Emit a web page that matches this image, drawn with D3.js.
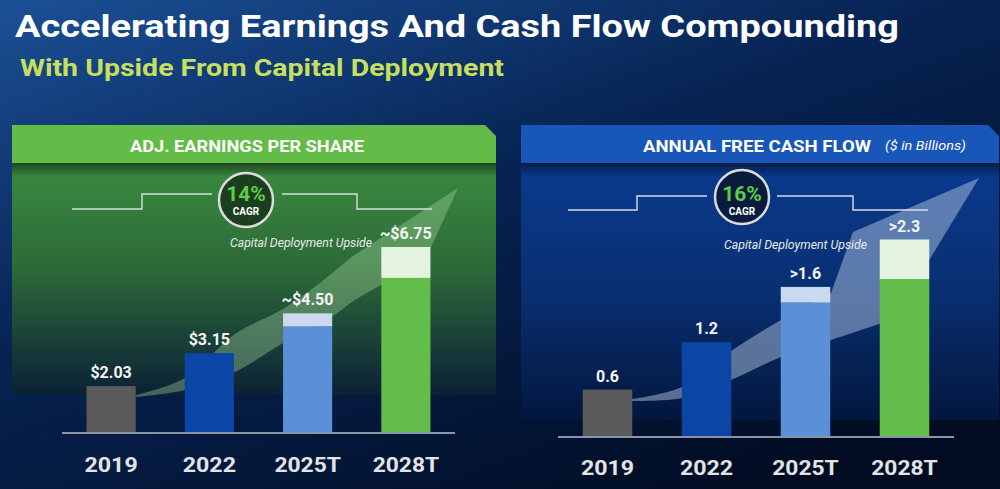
<html>
<head>
  <meta charset="UTF-8">
  <title>Earnings and Cash Flow Compounding</title>
  <script src="https://d3js.org/d3.v7.min.js"></script>
  <style>
    body { margin: 0; background: #03122e; }
    text { font-family: Roboto, "Open Sans", sans-serif; }
  </style>
</head>
<body>
<svg></svg>
<script>

    // Data

    const years = ["2019", "2022", "2025T", "2028T"];

    const epsValues = [2.03, 3.15, 4.50, 6.75];   // full bar height incl. upside
    const epsBase = [2.03, 3.15, 4.05, 5.70];     // bar height without upside
    const epsLabels = ["$2.03", "$3.15", "~$4.50", "~$6.75"];

    const fcfValues = [0.6, 1.2, 1.9, 2.5];
    const fcfBase = [0.6, 1.2, 1.7, 2.0];
    const fcfLabels = ["0.6", "1.2", ">1.6", ">2.3"];

    const barColors = ["#5b5b5b", "#0b46a6", "#5a90d8", "#63bd4a"];
    const upsideColors = ["#5b5b5b", "#0b46a6", "#c9d9f0", "#e4f2e0"];

    // Setup

    const width = 1000;
    const height = 489;

    let svg = d3.select("svg")
                .attr("width", width)
                .attr("height", height);

    let defs = svg.append("defs");

    let bg = defs.append("linearGradient").attr("id", "bg")
                 .attr("x1", 0).attr("y1", 0).attr("x2", 0.75).attr("y2", 1);
    bg.append("stop").attr("offset", 0).attr("stop-color", "#1b5096");
    bg.append("stop").attr("offset", 0.45).attr("stop-color", "#072454");
    bg.append("stop").attr("offset", 1).attr("stop-color", "#010c22");

    let greenBody = defs.append("linearGradient").attr("id", "greenBody")
                        .attr("x1", 0).attr("y1", 0).attr("x2", 0).attr("y2", 1);
    greenBody.append("stop").attr("offset", 0).attr("stop-color", "#3a8b3e");
    greenBody.append("stop").attr("offset", 0.45).attr("stop-color", "#2d6a39");
    greenBody.append("stop").attr("offset", 1).attr("stop-color", "#0b2136");

    let blueBody = defs.append("linearGradient").attr("id", "blueBody")
                       .attr("x1", 0).attr("y1", 0).attr("x2", 0).attr("y2", 1);
    blueBody.append("stop").attr("offset", 0).attr("stop-color", "#0a3a8e");
    blueBody.append("stop").attr("offset", 0.5).attr("stop-color", "#092f72");
    blueBody.append("stop").attr("offset", 1).attr("stop-color", "#03173d");

    let shadow = defs.append("linearGradient").attr("id", "shadow")
                     .attr("x1", 0).attr("y1", 0).attr("x2", 0).attr("y2", 1);
    shadow.append("stop").attr("offset", 0).attr("stop-color", "#000").attr("stop-opacity", 0.5);
    shadow.append("stop").attr("offset", 1).attr("stop-color", "#000").attr("stop-opacity", 0);

    svg.append("rect").attr("width", width).attr("height", height).attr("fill", "url(#bg)");

    // Titles

    svg.append("text")
        .attr("x", 15).attr("y", 37)
        .attr("textLength", 884).attr("lengthAdjust", "spacingAndGlyphs")
        .style("font-size", "31px").style("font-weight", 700)
        .attr("fill", "white")
        .text("Accelerating Earnings And Cash Flow Compounding");

    svg.append("text")
        .attr("x", 20).attr("y", 76)
        .attr("textLength", 484).attr("lengthAdjust", "spacingAndGlyphs")
        .style("font-size", "23px").style("font-weight", 700)
        .attr("fill", "#c6df5f")
        .text("With Upside From Capital Deployment");

    // Panels

    const panels = [
        {
            left: 12, right: 496, bodyBottom: 395, headColor: "#62bc47", body: "url(#greenBody)",
            title: "ADJ. EARNINGS PER SHARE", titleX: 130, titleW: 234, note: null,
            base: 433, axisRange: [62, 455], domain: [0.44, 6.75], top: 247,
            values: epsValues, baseValues: epsBase, labels: epsLabels,
            cagr: "14%", circle: [246, 200], circleFill: "#1b3f1e",
            steps: [[72, 209], [142, 194], [212, 194], [282, 194], [357, 209], [432, 209]],
            upside: [230, 247, 142],
            arrowFill: "#a8dca0", arrowOpacity: 0.36, yearY: 472,
            arrowUpper: [[136, 395], [185, 378], [235, 334], [283, 309], [320, 283]],
            arrowHead: [[353, 256], [458, 188], [407, 300], [383, 284]],
            arrowLower: [[383, 284], [355, 300], [333, 316], [283, 343], [235, 372], [185, 390], [136, 397]]
        },
        {
            left: 521, right: 999, bodyBottom: 420, headColor: "#1856b9", body: "url(#blueBody)",
            title: "ANNUAL FREE CASH FLOW", titleX: 643, titleW: 228, note: "($ in Billions)",
            base: 437, axisRange: [558, 954], domain: [0, 2.5], top: 239.5,
            values: fcfValues, baseValues: fcfBase, labels: fcfLabels,
            cagr: "16%", circle: [742, 197], circleFill: "#0a1c3e",
            steps: [[568, 210], [637, 196], [707, 196], [777, 196], [853, 210], [928, 210]],
            upside: [724, 249, 143],
            arrowFill: "#c4d4ee", arrowOpacity: 0.45, yearY: 475,
            arrowUpper: [[632, 399], [682, 387], [731, 351], [781, 320], [831, 293]],
            arrowHead: [[853, 232], [979, 178], [905, 300], [885, 322]],
            arrowLower: [[885, 322], [831, 340], [781, 357], [731, 380], [682, 398], [632, 401]]
        }
    ];

    function arrowPath(p) {
        const ln = d3.line().curve(d3.curveCatmullRom.alpha(0.5));
        let d = ln(p.arrowUpper);
        p.arrowHead.forEach(pt => d += `L${pt[0]},${pt[1]}`);
        d += ln(p.arrowLower).replace(/^M/, "L");
        return d + "Z";
    }

    panels.forEach( (p) => {

        let g = svg.append("g");

        // body + header
        g.append("rect")
            .attr("x", p.left).attr("y", 163)
            .attr("width", p.right - p.left).attr("height", p.bodyBottom - 163)
            .attr("fill", p.body);

        g.append("rect")
            .attr("x", p.left).attr("y", 163)
            .attr("width", p.right - p.left).attr("height", 14)
            .attr("fill", "url(#shadow)");

        g.append("path")
            .attr("d", `M${p.left},125H${p.right - 11}L${p.right},136V163H${p.left}Z`)
            .attr("fill", p.headColor);

        g.append("text")
            .attr("x", p.titleX).attr("y", 152)
            .attr("textLength", p.titleW).attr("lengthAdjust", "spacingAndGlyphs")
            .style("font-size", "17px").style("font-weight", 700)
            .attr("fill", "white")
            .text(p.title);

        if (p.note) {
            g.append("text")
                .attr("x", 885).attr("y", 150)
                .attr("textLength", 81).attr("lengthAdjust", "spacingAndGlyphs")
                .style("font-size", "13px").style("font-style", "italic")
                .attr("fill", "white")
                .text(p.note);
        }

        // scales
        const xScale = d3.scaleBand().domain(years)
                                     .range(p.axisRange)
                                     .paddingInner(0.5)
                                     .paddingOuter(0.25);
        const yScale = d3.scaleLinear().domain(p.domain)
                                       .range([p.base, p.top]);

        // growth arrow
        g.append("path")
            .attr("d", arrowPath(p))
            .attr("fill", p.arrowFill)
            .attr("opacity", p.arrowOpacity);

        // CAGR badge with step lines
        const step = d3.line().curve(d3.curveStepAfter);
        g.append("path")
            .attr("d", step(p.steps.slice(0, 3)) + step(p.steps.slice(3)))
            .attr("fill", "none")
            .attr("stroke", "#d6dde0")
            .attr("stroke-width", 1.4);

        g.append("circle")
            .attr("cx", p.circle[0]).attr("cy", p.circle[1]).attr("r", 27)
            .attr("fill", p.circleFill)
            .attr("stroke", "#dcdcdc").attr("stroke-width", 2.5);

        g.append("text")
            .attr("x", p.circle[0]).attr("y", 201)
            .attr("text-anchor", "middle")
            .style("font-size", "21px").style("font-weight", 700)
            .attr("fill", "#5fcb48")
            .text(p.cagr);

        g.append("text")
            .attr("x", p.circle[0]).attr("y", 214.5)
            .attr("text-anchor", "middle")
            .style("font-size", "10px").style("font-weight", 700)
            .attr("fill", "white")
            .text("CAGR");

        g.append("text")
            .attr("x", p.upside[0]).attr("y", p.upside[1])
            .attr("textLength", p.upside[2]).attr("lengthAdjust", "spacingAndGlyphs")
            .style("font-size", "13.5px").style("font-style", "italic")
            .attr("fill", "#e6ebe6")
            .text("Capital Deployment Upside");

        // bars
        years.forEach( (yr, i) => {
            g.append("rect")
                .attr("x", xScale(yr))
                .attr("y", yScale(p.values[i]))
                .attr("width", xScale.bandwidth())
                .attr("height", yScale(p.baseValues[i]) - yScale(p.values[i]))
                .attr("fill", upsideColors[i]);

            g.append("rect")
                .attr("x", xScale(yr))
                .attr("y", yScale(p.baseValues[i]))
                .attr("width", xScale.bandwidth())
                .attr("height", p.base - yScale(p.baseValues[i]))
                .attr("fill", barColors[i]);

            g.append("text")
                .attr("x", xScale(yr) + xScale.bandwidth() / 2)
                .attr("y", yScale(p.values[i]) - 8)
                .attr("text-anchor", "middle")
                .style("font-size", "16px").style("font-weight", 700)
                .attr("fill", "#f4f4f4")
                .text(p.labels[i]);

            g.append("text")
                .attr("x", xScale(yr) + xScale.bandwidth() / 2)
                .attr("y", p.yearY)
                .attr("text-anchor", "middle")
                .attr("textLength", 13.3 * yr.length).attr("lengthAdjust", "spacingAndGlyphs")
                .style("font-size", "21px").style("font-weight", 700)
                .attr("fill", "#e2e4e8")
                .text(yr);
        });

        // baseline
        g.append("line")
            .attr("x1", p.axisRange[0]).attr("x2", p.axisRange[1])
            .attr("y1", p.base).attr("y2", p.base)
            .attr("stroke", "#8b94a6").attr("stroke-width", 2);
    });

</script>
</body>
</html>
